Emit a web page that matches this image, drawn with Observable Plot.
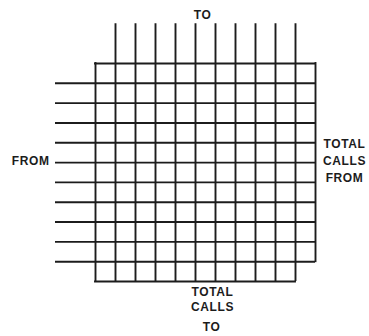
<!DOCTYPE html>
<html>
<head>
<meta charset="utf-8">
<script src="https://cdn.jsdelivr.net/npm/d3@7"></script>
<script src="https://cdn.jsdelivr.net/npm/@observablehq/plot@0.6"></script>
<style>
  html, body { margin: 0; padding: 0; background: #fff; }
  svg text { letter-spacing: 0.6px; }
</style>
</head>
<body>
<div id="chart"></div>
<script>
// Traffic matrix diagram: 10 originating ("FROM") rows × 10 terminating ("TO") columns,
// plus a totals row and a totals column.
const toCategories = ["1", "2", "3", "4", "5", "6", "7", "8", "9", "10"];
const fromCategories = ["1", "2", "3", "4", "5", "6", "7", "8", "9", "10"];
const topLabel = "TO";
const leftLabel = "FROM";
const rightLabel = "TOTAL\nCALLS\nFROM";
const bottomLabel = "TOTAL\nCALLS";
const bottomLabel2 = "TO";

const nTo = toCategories.length;
const nFrom = fromCategories.length;
const ext = 2; // length of lead-in lines, in cell units

// Internal boundary lines (one per category) — extended outward as lead-in lines
const vLines = toCategories.map((c, i) => ({cat: c, pos: i + 1}));
const hLines = fromCategories.map((c, i) => ({cat: c, pos: i + 1}));

const ink = "#1c1c1c";
const sw = 1.9;
const fs = 12;
const font = "'Liberation Sans', Arial, sans-serif";

const chart = Plot.plot({
  width: 369,
  height: 336,
  marginLeft: 95,
  marginRight: 54,
  marginTop: 63,
  marginBottom: 55,
  style: {background: "#fff", fontFamily: font},
  x: {type: "linear", domain: [0, nTo + 1], axis: null},
  y: {type: "linear", domain: [0, nFrom + 1], reverse: true, axis: null},
  marks: [
    // vertical "TO" lines: from above the grid down to the bottom of the totals row
    Plot.ruleX(vLines, {x: "pos", y1: -ext, y2: nFrom + 1, stroke: ink, strokeWidth: sw}),
    // horizontal "FROM" lines: from left of the grid across to the totals column
    Plot.ruleY(hLines, {y: "pos", x1: -ext, x2: nTo + 1, stroke: ink, strokeWidth: sw}),
    // outer border (corner cell missing)
    Plot.ruleY([0], {x1: 0, x2: nTo + 1, stroke: ink, strokeWidth: sw, strokeLinecap: "square"}),
    Plot.ruleX([0], {y1: 0, y2: nFrom + 1, stroke: ink, strokeWidth: sw, strokeLinecap: "square"}),
    Plot.ruleY([nFrom + 1], {x1: 0, x2: nTo, stroke: ink, strokeWidth: sw, strokeLinecap: "square"}),
    Plot.ruleX([nTo + 1], {y1: 0, y2: nFrom, stroke: ink, strokeWidth: sw, strokeLinecap: "square"}),
    // labels
    Plot.text([topLabel], {x: nTo / 2 + 0.5, y: -ext, dx: -3, dy: -9, text: d => d,
      fontSize: fs, fontWeight: "bold", fill: ink}),
    Plot.text([leftLabel], {x: -ext, y: nFrom / 2, dx: -6, dy: -1, text: d => d,
      textAnchor: "end", fontSize: fs, fontWeight: "bold", fill: ink}),
    Plot.text([rightLabel], {x: nTo + 1, y: nFrom / 2, dx: 29, dy: -3, text: d => d,
      lineHeight: 1.42, fontSize: fs, fontWeight: "bold", fill: ink}),
    Plot.text([bottomLabel], {x: nTo / 2 + 0.5, y: nFrom + 1, dx: 7, dy: 17, text: d => d,
      lineHeight: 1.3, fontSize: fs, fontWeight: "bold", fill: ink}),
    Plot.text([bottomLabel2], {x: nTo / 2 + 0.5, y: nFrom + 1, dx: 6, dy: 46, text: d => d,
      fontSize: fs, fontWeight: "bold", fill: ink})
  ]
});
document.getElementById("chart").appendChild(chart);
</script>
</body>
</html>
